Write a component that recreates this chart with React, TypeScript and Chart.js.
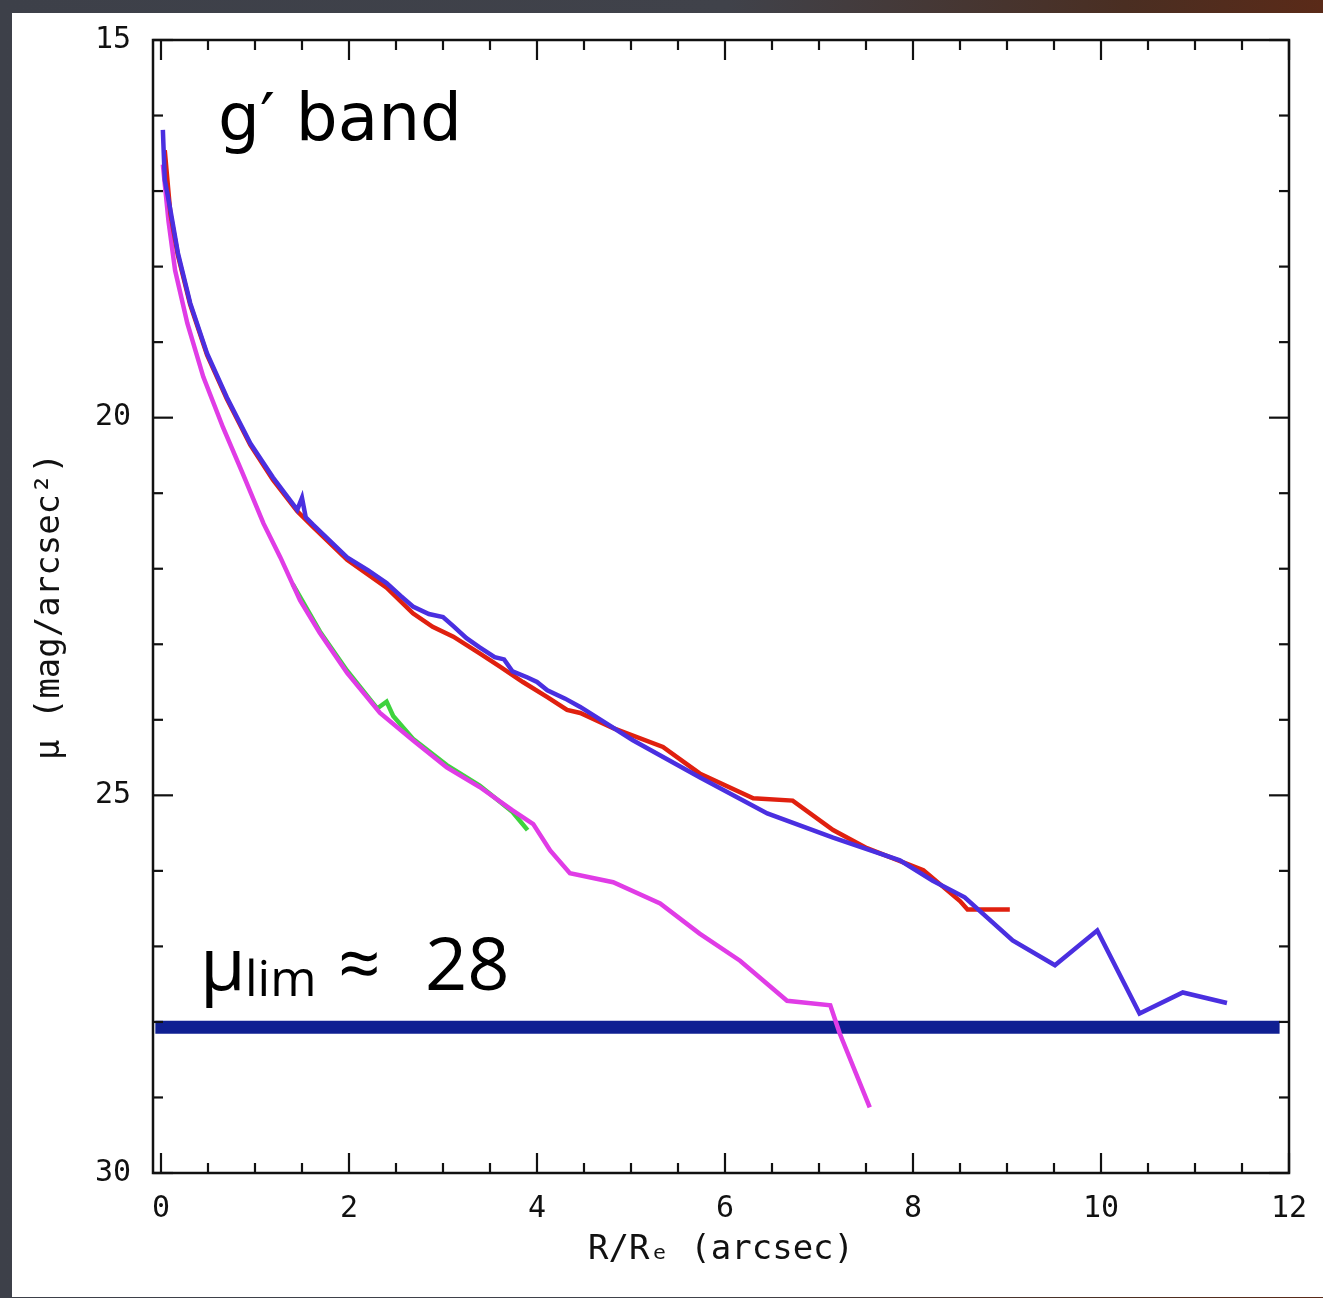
import React, { useEffect, useRef } from "react";
import { Chart, registerables } from "chart.js";

Chart.register(...registerables);

// Axis ticks
const xMajorTicks = [0, 2, 4, 6, 8, 10, 12];
const yMajorTicks = [15, 20, 25, 30];
const xMinorStep = 0.5;
const yMinorStep = 1;

// Blue profile
const blueX = [0.02, 0.04, 0.10, 0.18, 0.31, 0.49, 0.70, 0.95, 1.19, 1.45, 1.50, 1.54, 1.62, 1.98, 2.20, 2.40, 2.55, 2.68, 2.85, 3.00, 3.11, 3.25, 3.39, 3.55, 3.65, 3.74, 3.90, 4.00, 4.11, 4.30, 4.46, 5.02, 5.73, 6.45, 7.15, 7.86, 8.21, 8.55, 9.06, 9.51, 9.96, 10.41, 10.87, 11.34];
const blueY = [16.19, 16.85, 17.25, 17.82, 18.48, 19.15, 19.73, 20.34, 20.79, 21.22, 21.06, 21.32, 21.42, 21.85, 22.02, 22.19, 22.36, 22.50, 22.60, 22.64, 22.76, 22.92, 23.04, 23.17, 23.20, 23.36, 23.44, 23.50, 23.61, 23.72, 23.83, 24.27, 24.76, 25.24, 25.56, 25.86, 26.13, 26.35, 26.92, 27.25, 26.79, 27.89, 27.61, 27.75];

// Red profile
const redX = [0.04, 0.10, 0.18, 0.31, 0.49, 0.70, 0.95, 1.19, 1.45, 1.62, 1.98, 2.40, 2.68, 2.89, 3.11, 3.39, 3.61, 3.85, 4.11, 4.32, 4.46, 4.81, 5.34, 5.73, 6.30, 6.72, 7.15, 7.51, 8.11, 8.50, 8.58, 9.03];
const redY = [16.46, 17.30, 17.85, 18.50, 19.17, 19.75, 20.36, 20.82, 21.24, 21.45, 21.88, 22.25, 22.59, 22.77, 22.90, 23.12, 23.30, 23.50, 23.70, 23.87, 23.91, 24.11, 24.36, 24.71, 25.04, 25.07, 25.46, 25.70, 25.99, 26.40, 26.51, 26.51];

// Magenta profile
const magentaX = [0.02, 0.08, 0.15, 0.28, 0.45, 0.66, 0.87, 1.09, 1.27, 1.48, 1.69, 1.98, 2.33, 2.68, 3.04, 3.39, 3.74, 3.96, 4.14, 4.35, 4.81, 5.31, 5.73, 6.16, 6.66, 7.12, 7.22, 7.54];
const magentaY = [16.65, 17.40, 18.05, 18.75, 19.46, 20.13, 20.74, 21.40, 21.85, 22.42, 22.85, 23.38, 23.91, 24.27, 24.63, 24.89, 25.20, 25.38, 25.73, 26.03, 26.15, 26.43, 26.83, 27.19, 27.72, 27.78, 28.15, 29.13];

// Green profile
const greenX = [1.40, 1.69, 1.98, 2.30, 2.40, 2.47, 2.68, 3.04, 3.39, 3.74, 3.90];
const greenY = [22.20, 22.83, 23.35, 23.85, 23.76, 23.95, 24.25, 24.60, 24.87, 25.22, 25.46];

// Limiting surface brightness line
const limitX = [-0.06, 11.9];
const limitY = [28.07, 28.07];

const toPoints = (xs: number[], ys: number[]) => xs.map((x, i) => ({ x, y: ys[i] }));

const framePlugin = {
  id: "frameAndNotes",
  afterDatasetsDraw(chart: any) {
    const { ctx, chartArea: a, scales } = chart;
    const xs = scales.x;
    const ys = scales.y;
    ctx.save();
    ctx.strokeStyle = "#111";
    ctx.lineWidth = 2.5;
    ctx.strokeRect(a.left, a.top, a.right - a.left, a.bottom - a.top);
    const seg = (x1: number, y1: number, x2: number, y2: number) => {
      ctx.beginPath();
      ctx.moveTo(x1, y1);
      ctx.lineTo(x2, y2);
      ctx.stroke();
    };
    ctx.lineWidth = 2.2;
    for (let v = xMajorTicks[0]; v <= xMajorTicks[xMajorTicks.length - 1] + 1e-6; v += xMinorStep) {
      const px = xs.getPixelForValue(v);
      if (px < a.left - 1 || px > a.right + 1) continue;
      const major = xMajorTicks.some((t) => Math.abs(t - v) < 1e-6);
      const len = major ? 20 : 10;
      seg(px, a.bottom, px, a.bottom - len);
      seg(px, a.top, px, a.top + len);
    }
    for (let v = yMajorTicks[0]; v <= yMajorTicks[yMajorTicks.length - 1] + 1e-6; v += yMinorStep) {
      const py = ys.getPixelForValue(v);
      const major = yMajorTicks.some((t) => Math.abs(t - v) < 1e-6);
      const len = major ? 20 : 10;
      seg(a.left, py, a.left + len, py);
      seg(a.right, py, a.right - len, py);
    }
    // annotations
    ctx.fillStyle = "#000";
    ctx.textBaseline = "alphabetic";
    ctx.textAlign = "left";
    ctx.font = '66px "DejaVu Sans"';
    ctx.fillText("g\u2032 band", a.left + 65, a.top + 100);
    ctx.font = '74px "Open Sans"';
    ctx.fillText("\u03bc", a.left + 47, a.top + 950);
    ctx.font = '50px "Open Sans"';
    ctx.fillText("lim", a.left + 92, a.top + 956);
    ctx.font = '74px "Open Sans"';
    ctx.fillText("\u2248", a.left + 185, a.top + 950);
    ctx.fillText("28", a.left + 272, a.top + 950);
    ctx.restore();
  },
};

export default function App() {
  const ref = useRef<HTMLCanvasElement>(null);
  useEffect(() => {
    if (!ref.current) return;
    const tickFont = { family: '"DejaVu Sans Mono", monospace', size: 30 };
    const titleFont = { family: '"DejaVu Sans Mono", monospace', size: 34 };
    const line = (data: any, color: string, order: number, width = 4) => ({
      data,
      borderColor: color,
      backgroundColor: color,
      borderWidth: width,
      showLine: true,
      pointRadius: 0,
      fill: false,
      tension: 0,
      order,
    });
    const chart = new Chart(ref.current, {
      type: "scatter",
      data: {
        datasets: [
          line(toPoints(blueX, blueY), "#4a2fe0", 1, 4.5),
          line(toPoints(redX, redY), "#e0200f", 2, 4.5),
          line(toPoints(magentaX, magentaY), "#e03ce6", 3, 4.5),
          line(toPoints(greenX, greenY), "#3fd23f", 4, 4.5),
          line(toPoints(limitX, limitY), "#0f1f92", 5, 13),
        ],
      },
      plugins: [framePlugin],
      options: {
        animation: false,
        responsive: false,
        events: [],
        layout: { padding: { left: 0, top: 27, right: 34, bottom: 0 } },
        plugins: { legend: { display: false }, tooltip: { enabled: false } },
        scales: {
          x: {
            type: "linear",
            min: -0.085,
            max: 12,
            afterBuildTicks: (s: any) => {
              s.ticks = xMajorTicks.map((v) => ({ value: v }));
            },
            afterFit: (s: any) => {
              s.height = 124;
              s.paddingLeft = 0;
              s.paddingRight = 0;
            },
            grid: { display: false, drawTicks: false },
            border: { display: false },
            ticks: {
              font: tickFont,
              color: "#111",
              padding: 18,
              maxRotation: 0,
              autoSkip: false,
              callback: (v: any) => String(v),
            },
            title: {
              display: true,
              text: "R/R\u2091 (arcsec)",
              font: titleFont,
              color: "#111",
              padding: { top: 0, bottom: 26 },
            },
          },
          y: {
            type: "linear",
            min: 15,
            max: 30,
            reverse: true,
            afterBuildTicks: (s: any) => {
              s.ticks = yMajorTicks.map((v) => ({ value: v }));
            },
            afterFit: (s: any) => {
              s.width = 141;
              s.paddingTop = 0;
              s.paddingBottom = 0;
            },
            grid: { display: false, drawTicks: false },
            border: { display: false },
            ticks: {
              font: tickFont,
              color: "#111",
              padding: 22,
              autoSkip: false,
              callback: (v: any) => String(v),
            },
            title: {
              display: true,
              text: "\u03bc (mag/arcsec\u00b2)",
              font: titleFont,
              color: "#111",
              padding: { top: 18, bottom: 0 },
            },
          },
        },
      },
    } as any);
    return () => chart.destroy();
  }, []);

  return (
    <div
      style={{
        position: "fixed",
        inset: 0,
        background: "linear-gradient(90deg, #3d4049 0%, #40424a 55%, #4a2e22 85%, #5a2a18 100%)",
      }}
    >
      <div
        style={{
          position: "absolute",
          left: 12,
          top: 13,
          width: 1311,
          height: 1284,
          background: "#ffffff",
        }}
      >
        <canvas ref={ref} width={1311} height={1284} style={{ display: "block" }} />
      </div>
    </div>
  );
}
